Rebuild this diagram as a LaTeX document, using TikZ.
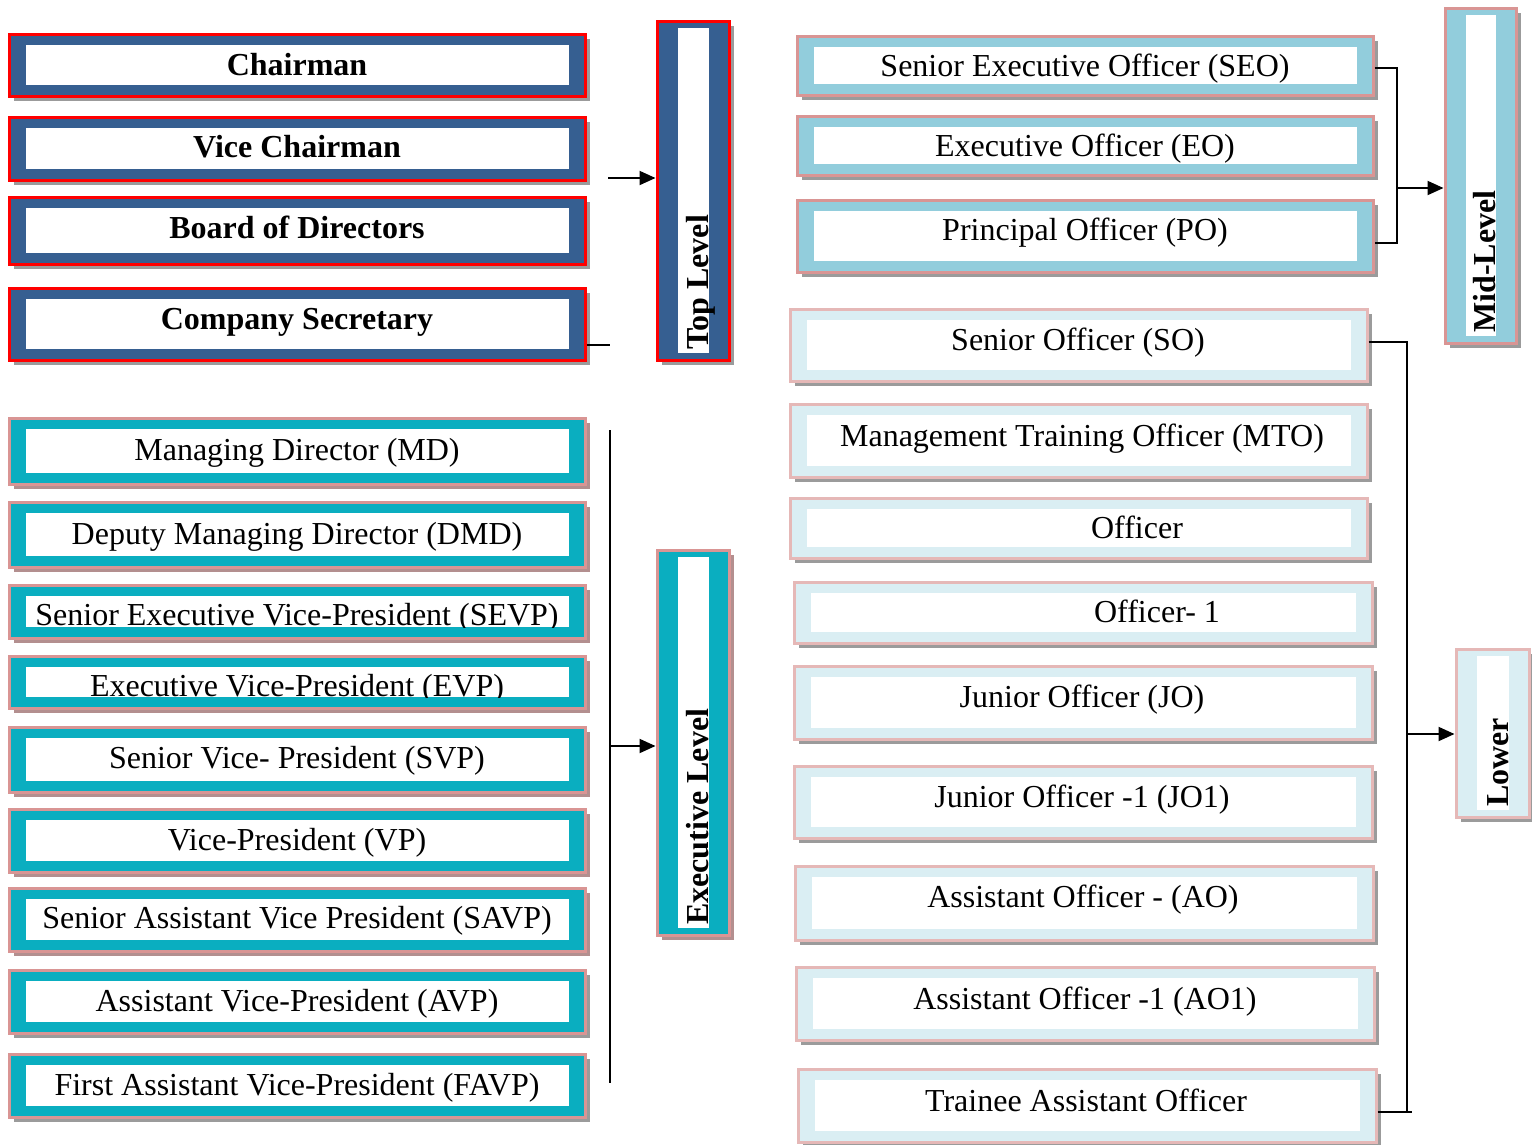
\documentclass[tikz,border=0pt]{standalone}
\usepackage{fontspec}
\setmainfont{Liberation Serif}
\usetikzlibrary{arrows.meta}
\definecolor{navy}{HTML}{365F91}
\definecolor{teal2}{HTML}{0AAEC0}
\definecolor{midblue}{HTML}{92CDDC}
\definecolor{lowblue}{HTML}{DAEEF3}
\definecolor{pinkb}{HTML}{D99594}
\definecolor{pinkl}{HTML}{E5B8B7}
\definecolor{shgray}{HTML}{9B9B9B}
\definecolor{shrose}{HTML}{B38F8F}
\tikzset{
  topbox/.style={draw=red, line width=3pt, fill=navy, inner sep=0pt},
  topbox shadow/.style={fill=shgray},
  topbox text/.style={font=\fontsize{32}{38}\selectfont\bfseries, inner sep=0pt},
  exbox/.style={draw=pinkb, line width=3pt, fill=teal2, inner sep=0pt},
  exbox shadow/.style={fill=shrose},
  exbox text/.style={font=\fontsize{32}{38}\selectfont, inner sep=0pt},
  exboxg/.style={exbox},
  exboxg shadow/.style={fill=shgray},
  exboxg text/.style={exbox text},
  midbox/.style={draw=pinkb, line width=3pt, fill=midblue, inner sep=0pt},
  midbox shadow/.style={fill=shgray},
  midbox text/.style={font=\fontsize{32}{38}\selectfont, inner sep=0pt},
  lowbox/.style={draw=pinkl, line width=3pt, fill=lowblue, inner sep=0pt},
  lowbox shadow/.style={fill=shgray},
  lowbox text/.style={font=\fontsize{32}{38}\selectfont, inner sep=0pt},
  innerw/.style={fill=white, draw=none, inner sep=0pt},
  lvltext/.style={font=\fontsize{32}{38}\selectfont\bfseries, inner sep=0pt, rotate=90, anchor=base west},
  conn/.style={line width=1.8pt},
  arr/.style={line width=2pt, -{Triangle[length=16pt,width=14pt]}},
}
% #1 name, #2 style, #3 x1, #4 y1, #5 x2, #6 y2, #7 text x, #8 baseline y, #9 text
\newcommand\orgbox[9]{%
  \fill[#2 shadow] (#3+5,#4+5) rectangle (#5+5,#6+5);
  \node[#2, minimum width={(#5-#3)*1pt}, minimum height={(#6-#4)*1pt}] (#1) at ({(#3+#5)/2},{(#4+#6)/2}) {};
  \node[innerw, minimum width={(#5-#3-33)*1pt}, minimum height={(#6-#4-22)*1pt}] (#1-in) at ({(#3+#5)/2+0.5},{(#4+#6)/2}) {};
  \begin{scope}
    \clip (#1-in.south west) rectangle (#1-in.north east);
    \node[#2 text, anchor=base] (#1-t) at (#7,#8) {#9};
  \end{scope}%
}
% level box: #1 name, #2 style, #3 x1, #4 y1, #5 x2, #6 y2, #7 text
\newcommand\lvlbox[7]{%
  \fill[#2 shadow] (#3+5,#4+5) rectangle (#5+5,#6+5);
  \node[#2, minimum width={(#5-#3)*1pt}, minimum height={(#6-#4)*1pt}] (#1) at ({(#3+#5)/2},{(#4+#6)/2}) {};
  \node[innerw, minimum width={(#5-#3-41)*1pt}, minimum height={(#6-#4-14)*1pt}] (#1-in) at ({(#3+#5)/2+0.5},{(#4+#6)/2}) {};
  \node[lvltext] (#1-t) at (#5-21,#6-10) {#7};%
}
\begin{document}
\begin{tikzpicture}[x=1pt,y=-1pt]
\useasboundingbox[fill=white] (0,0) rectangle (1532,1144);
% ---------- top level ----------
\orgbox{chair}{topbox}{9}{34}{585}{96}{297}{75}{Chairman}
\orgbox{vice}{topbox}{9}{117}{585}{180}{297}{157}{Vice Chairman}
\orgbox{board}{topbox}{9}{197}{585}{264}{297}{238}{Board of Directors}
\orgbox{cs}{topbox}{9}{288}{585}{360}{297}{329}{Company Secretary}
\lvlbox{top}{topbox}{657}{21}{729}{360}{Top Level}
% ---------- executive level ----------
\orgbox{md}{exbox}{9}{418}{585}{484}{297}{460}{Managing Director (MD)}
\orgbox{dmd}{exbox}{9}{502}{585}{567}{297}{544}{Deputy Managing Director (DMD)}
\orgbox{sevp}{exbox}{9}{585}{585}{638}{297}{625}{Senior Executive Vice-President (SEVP)}
\orgbox{evp}{exbox}{9}{656}{585}{708}{297}{696}{Executive Vice-President (EVP)}
\orgbox{svp}{exbox}{9}{727}{585}{792}{297}{768}{Senior Vice- President (SVP)}
\orgbox{vp}{exbox}{9}{809}{585}{872}{297}{850}{Vice-President (VP)}
\orgbox{savp}{exbox}{9}{888}{585}{951}{297}{928}{Senior Assistant Vice President (SAVP)}
\orgbox{avp}{exboxg}{9}{970}{585}{1033}{297}{1011}{Assistant Vice-President (AVP)}
\orgbox{favp}{exboxg}{9}{1054}{585}{1117}{297}{1095}{First Assistant Vice-President (FAVP)}
\lvlbox{exl}{exbox}{657}{550}{729}{935}{Executive Level}
% ---------- mid level ----------
\orgbox{seo}{midbox}{797}{36}{1373}{95}{1085}{76}{Senior Executive Officer (SEO)}
\orgbox{eo}{midbox}{797}{116}{1373}{175}{1085}{156}{Executive Officer (EO)}
\orgbox{po}{midbox}{797}{200}{1373}{272}{1085}{240}{Principal Officer (PO)}
\lvlbox{mid}{midbox}{1445}{8}{1516}{343}{Mid-Level}
% ---------- lower level ----------
\orgbox{so}{lowbox}{790}{309}{1367}{381}{1078}{350}{Senior Officer (SO)}
\orgbox{mto}{lowbox}{790}{404}{1367}{477}{1082}{446}{Management Training Officer (MTO)}
\orgbox{off}{lowbox}{790}{498}{1367}{558}{1137}{538}{Officer}
\orgbox{offa}{lowbox}{794}{582}{1372}{643}{1157}{622}{Officer- 1}
\orgbox{jo}{lowbox}{794}{666}{1372}{739}{1082}{707}{Junior Officer (JO)}
\orgbox{joa}{lowbox}{794}{766}{1372}{838}{1082}{807}{Junior Officer -1 (JO1)}
\orgbox{ao}{lowbox}{795}{866}{1373}{940}{1083}{907}{Assistant Officer - (AO)}
\orgbox{aoa}{lowbox}{796}{967}{1374}{1040}{1085}{1009}{Assistant Officer -1 (AO1)}
\orgbox{tao}{lowbox}{798}{1069}{1376}{1142}{1086}{1111}{Trainee Assistant Officer}
\lvlbox{low}{lowbox}{1456}{649}{1529}{817}{Lower}
% ---------- connectors ----------
\coordinate (tin) at (608,178);
\draw[arr] (tin) -- (tin -| top.west);
\coordinate (csend) at (610,345);
\draw[conn] (csend -| cs.east) -- (csend);
\coordinate (ev1) at (610,430);
\coordinate (ev2) at (610,1083);
\coordinate (ej) at (610,746);
\draw[conn] (ev1) -- (ev2);
\draw[arr] (ej) -- (ej -| exl.west);
\coordinate (mj1) at (1397,68);
\coordinate (mj2) at (1397,243);
\coordinate (mj) at (1397,188);
\draw[conn] (mj1 -| seo.east) -- (mj1) -- (mj2) -- (mj2 -| po.east);
\draw[arr] (mj) -- (mj -| mid.west);
\coordinate (lj1) at (1407,342);
\coordinate (lj2) at (1407,1112);
\coordinate (lj3) at (1412,1112);
\coordinate (lj) at (1407,734);
\draw[conn] (lj1 -| so.east) -- (lj1) -- (lj2);
\draw[conn] (lj2 -| tao.east) -- (lj3);
\draw[arr] (lj) -- (lj -| low.west);
\end{tikzpicture}
\end{document}
